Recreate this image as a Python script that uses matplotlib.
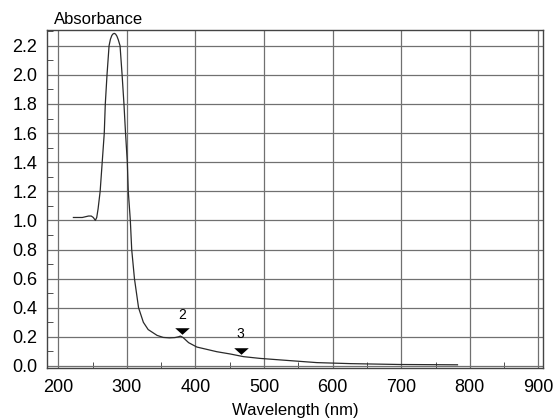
import matplotlib
matplotlib.use("Agg")
import matplotlib.pyplot as plt
import numpy as np
from matplotlib.ticker import MultipleLocator, FormatStrFormatter
from matplotlib.path import Path

plt.rcParams['font.family'] = ['Liberation Sans', 'DejaVu Sans']

wavelength = [222, 235, 244, 248, 251, 254, 256, 258, 261, 264, 267, 268.5, 271, 274, 276, 278,
              279.5, 281.5, 283.5, 285.5, 287.5, 290, 293, 295.7, 298, 300.6, 302, 303.5, 305, 307, 311, 317, 324,
              331, 344, 353, 362, 370, 375, 378, 382, 390, 402, 431, 451, 470, 494, 528,
              577, 626, 699, 782]
absorbance = [1.02, 1.02, 1.03, 1.03, 1.02, 1.0, 1.02, 1.08, 1.2, 1.4, 1.6, 1.8, 2.0, 2.2, 2.245, 2.27,
              2.28, 2.285, 2.28, 2.265, 2.24, 2.2, 2.0, 1.8, 1.6, 1.4, 1.2, 1.1, 1.0, 0.8, 0.6, 0.4, 0.3,
              0.25, 0.21, 0.196, 0.193, 0.195, 0.2, 0.205, 0.195, 0.16, 0.13, 0.098, 0.082, 0.064, 0.052, 0.04,
              0.023, 0.016, 0.01, 0.008]

marker_x = [380, 466]
marker_y = [0.24, 0.105]
marker_labels = ["2", "3"]

tri = Path([(-1.0, 0.45), (1.0, 0.45), (0.0, -0.45), (-1.0, 0.45)],
           [Path.MOVETO, Path.LINETO, Path.LINETO, Path.CLOSEPOLY])

fig = plt.figure(figsize=(5.54, 4.19), dpi=100)
ax = fig.add_axes([47/554, 51/419, 496/554, 338/419])

ax.plot(wavelength, absorbance, color='#2a2a2a', lw=0.9)
ax.scatter(marker_x, marker_y, marker=tri, s=110, color='black', zorder=5, linewidths=0)
for mx, my, lab in zip(marker_x, marker_y, marker_labels):
    ax.text(mx, my + 0.065, lab, ha='center', va='bottom', fontsize=10)

ax.set_xlim(183.5, 906.7)
ax.set_ylim(-0.014, 2.308)
ax.xaxis.set_major_locator(MultipleLocator(100))
ax.xaxis.set_minor_locator(MultipleLocator(50))
ax.yaxis.set_major_locator(MultipleLocator(0.2))
ax.yaxis.set_minor_locator(MultipleLocator(0.1))
ax.yaxis.set_major_formatter(FormatStrFormatter('%.1f'))
ax.grid(True, which='major', color='#707070', lw=0.9)
ax.tick_params(which='major', length=0, labelsize=13)
ax.tick_params(axis='y', which='major', pad=7)
ax.tick_params(axis='x', which='major', pad=8)
ax.tick_params(which='minor', direction='in', length=4, color='#333333')
for s in ax.spines.values():
    s.set_color('#444444')
    s.set_linewidth(1.0)

fig.text(54/554, 1 - 20/419, 'Absorbance', ha='left', va='center', fontsize=12)
ax.set_xlabel('Wavelength (nm)', fontsize=12, labelpad=5)

fig.savefig('out.png', dpi=100)
